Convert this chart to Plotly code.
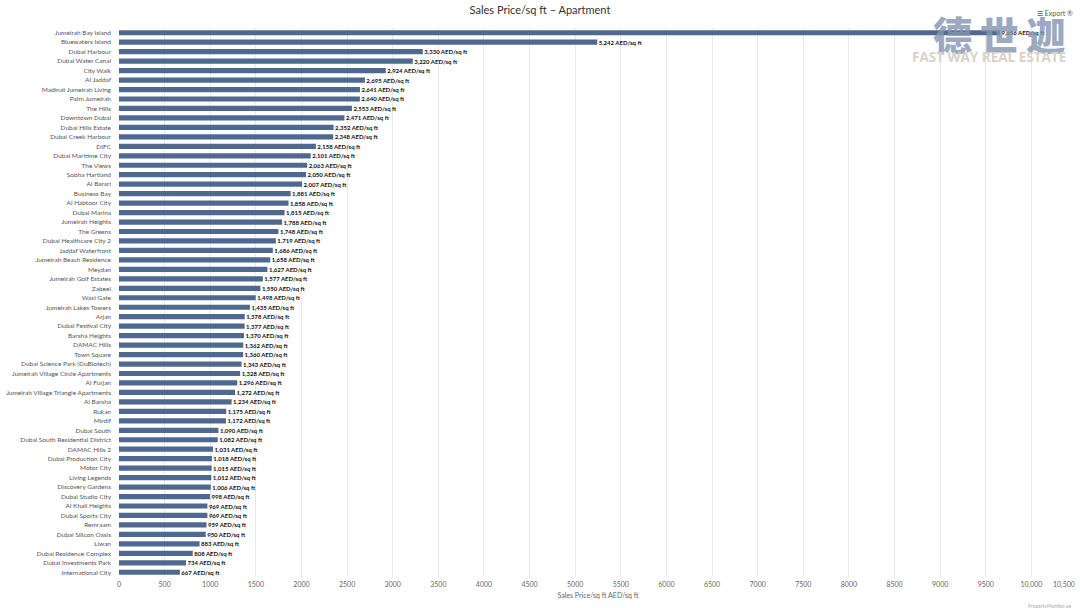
import plotly.graph_objects as go

# data
areas = [
    "Jumeirah Bay Island", "Bluewaters Island", "Dubai Harbour", "Dubai Water Canal",
    "City Walk", "Al Jaddaf", "Madinat Jumeirah Living", "Palm Jumeirah", "The Hills",
    "Downtown Dubai", "Dubai Hills Estate", "Dubai Creek Harbour", "DIFC",
    "Dubai Maritime City", "The Views", "Sobha Hartland", "Al Barari", "Business Bay",
    "Al Habtoor City", "Dubai Marina", "Jumeirah Heights", "The Greens",
    "Dubai Healthcare City 2", "Jaddaf Waterfront", "Jumeirah Beach Residence", "Meydan",
    "Jumeirah Golf Estates", "Zabeel", "Wasl Gate", "Jumeirah Lakes Towers", "Arjan",
    "Dubai Festival City", "Barsha Heights", "DAMAC Hills", "Town Square",
    "Dubai Science Park (DuBiotech)", "Jumeirah Village Circle Apartments", "Al Furjan",
    "Jumeirah Village Triangle Apartments", "Al Barsha", "Rukan", "Mirdif", "Dubai South",
    "Dubai South Residential District", "DAMAC Hills 2", "Dubai Production City",
    "Motor City", "Living Legends", "Discovery Gardens", "Dubai Studio City",
    "Al Khail Heights", "Dubai Sports City", "Remraam", "Dubai Silicon Oasis", "Liwan",
    "Dubai Residence Complex", "Dubai Investments Park", "International City",
]
price_sqft = [
    9656, 5242, 3330, 3220, 2924, 2695, 2641, 2640, 2553, 2471, 2352, 2348, 2158,
    2101, 2063, 2050, 2007, 1881, 1858, 1815, 1788, 1748, 1719, 1686, 1658, 1627,
    1577, 1550, 1498, 1435, 1378, 1377, 1370, 1362, 1360, 1343, 1328, 1296, 1272,
    1234, 1175, 1172, 1090, 1082, 1031, 1018, 1015, 1012, 1006, 998, 969, 969, 959,
    950, 883, 808, 734, 667,
]
tick_vals = list(range(0, 10001, 500))
tick_text = ["10,000" if v == 10000 else str(v) for v in tick_vals]

FONT = "Lato, 'Open Sans', sans-serif"
BAR = "#4f6890"

fig = go.Figure(
    go.Bar(
        x=price_sqft,
        y=areas,
        orientation="h",
        marker=dict(color=BAR, line=dict(width=0)),
        texttemplate=" %{x:,} AED/sq ft",
        textposition="outside",
        constraintext="none",
        cliponaxis=False,
        textfont=dict(family=FONT, size=6, color="#111111", weight="bold"),
        hovertemplate="%{y}: %{x:,} AED/sq ft<extra></extra>",
    )
)

fig.update_layout(
    width=1080,
    height=608,
    margin=dict(l=119, r=3, t=28, b=31, autoexpand=False),
    plot_bgcolor="white",
    paper_bgcolor="white",
    font=dict(family=FONT, color="#555555"),
    bargap=0.45,
    showlegend=False,
    title=dict(
        text="Sales Price/sq ft – Apartment",
        x=0.5, xanchor="center", y=0.99, yanchor="top",
        font=dict(size=11, color="#333333", family=FONT),
    ),
    xaxis=dict(
        range=[0, 10500],
        tickvals=tick_vals,
        ticktext=tick_text,
        tickfont=dict(size=7, color="#666666"),
        ticklabelstandoff=2,
        showgrid=True,
        gridcolor="#e8e8e8",
        gridwidth=1,
        zeroline=False,
        showline=False,
        ticks="",
        automargin=False,
        title=dict(text="Sales Price/sq ft AED/sq ft", font=dict(size=7, color="#666666"),
                   standoff=5),
    ),
    yaxis=dict(
        autorange="reversed",
        tickfont=dict(size=6.5, color="#555555"),
        showgrid=False,
        zeroline=False,
        showline=False,
        ticks="",
        automargin=False,
        ticklabelstandoff=7,
    ),
)

# last tick label sits pulled in from the right edge, like the original
fig.add_annotation(
    x=10500, xref="x", y=0, yref="paper", yshift=-1,
    text="10,500", showarrow=False, xanchor="right", yanchor="top",
    font=dict(size=7, color="#666666"),
)

# watermark
fig.add_annotation(
    x=0.991, xref="paper", y=1.045, yref="paper", xanchor="right", yanchor="top",
    text="德\u2009世\u2009迦", showarrow=False, opacity=0.8,
    font=dict(family="Noto Sans CJK SC", size=39, color="#8494b0", weight=900),
)
fig.add_annotation(
    x=0.991, xref="paper", y=0.968, yref="paper", xanchor="right", yanchor="top",
    text="<b>FAST WAY REAL ESTATE</b>", showarrow=False,
    font=dict(family="Open Sans", size=13.5, color="#d8d2c8"),
)
fig.add_annotation(
    x=0.998, xref="paper", y=1.038, yref="paper", xanchor="right", yanchor="top",
    text="☰ Export ®", showarrow=False,
    font=dict(size=7, color="#555555"),
)
fig.add_annotation(
    x=0.996, xref="paper", y=0, yref="paper", yshift=-24, xanchor="right", yanchor="top",
    text="PropertyMonitor.ae", showarrow=False,
    font=dict(size=5, color="#aaaaaa"),
)

# drop the page's default body margin so the 1080x608 figure fills the window
fig.write_html(
    "out.html",
    config={"displayModeBar": False},
    post_script="document.body.style.margin='0';",
)
